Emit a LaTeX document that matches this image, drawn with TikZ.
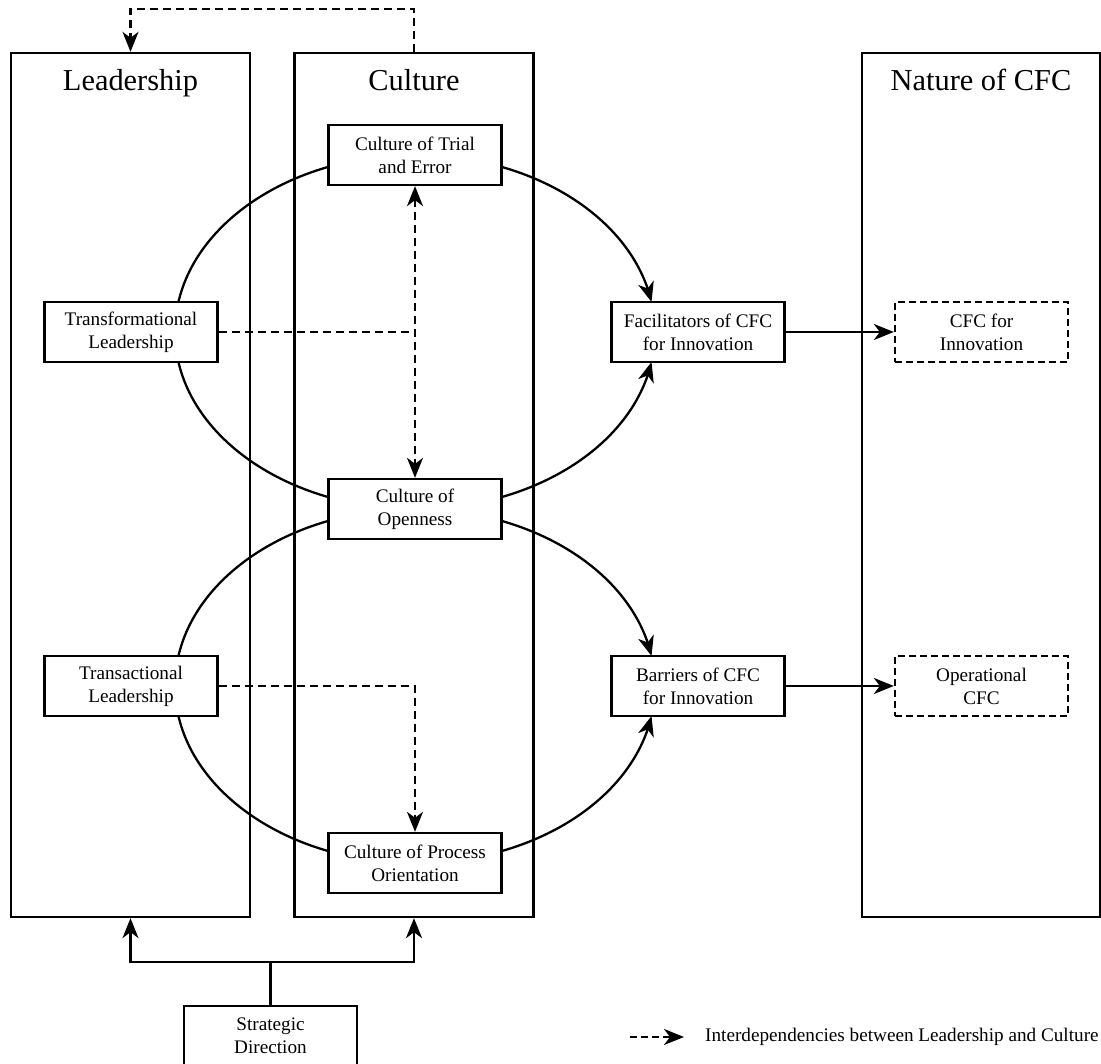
\documentclass[tikz,border=0pt]{standalone}
\usepackage{fontspec}
\setmainfont{Liberation Serif}
\usetikzlibrary{arrows.meta,bending,backgrounds}
\begin{document}
\begin{tikzpicture}[x=1pt,y=1pt,
  every node/.style={font=\fontsize{19.2}{23}\selectfont},
  panel/.style={draw,line width=2.3pt,minimum width=239pt,minimum height=864pt,inner sep=0pt},
  paneltitle/.style={font=\fontsize{30.4}{35}\selectfont,anchor=base,inner sep=0pt},
  item/.style={draw,line width=2.3pt,fill=white,minimum width=173pt,minimum height=60pt,align=center,inner sep=2pt},
  outcome/.style={item,dash pattern=on 7pt off 4pt},
  tip/.style={-{Stealth[length=20pt,width=16pt,inset=6pt]}},
  bitip/.style={{Stealth[length=20pt,width=16pt,inset=6pt]}-{Stealth[length=20pt,width=16pt,inset=6pt]}},
  link/.style={line width=2.3pt},
  dep/.style={line width=2.3pt,dash pattern=on 8pt off 5pt},
  loop/.style={x radius=240,y radius=177},
]
\useasboundingbox (0,0) rectangle (1101,1064);

% three panels
\node[panel] (lead) at (130.5,579) {};
\node[panel] (cult) at (414,579) {};
\node[panel,minimum width=238pt] (nat) at (981,579) {};
\node[paneltitle] (leadT) at (130.5,973) {Leadership};
\node[paneltitle] (cultT) at (414,973) {Culture};
\node[paneltitle] (natT) at (981,973) {Nature of CFC};

% elements
\node[item] (trial) at (415,909) {Culture of Trial\\and Error};
\node[item] (transf) at (131,732) {Transformational\\Leadership};
\node[item] (facil) at (698,732) {Facilitators of CFC\\for Innovation};
\node[outcome] (cfcinn) at (981.5,732) {CFC for\\Innovation};
\node[item] (open) at (415,555) {Culture of\\Openness};
\node[item] (transa) at (131,378) {Transactional\\Leadership};
\node[item] (barr) at (698,378) {Barriers of CFC\\for Innovation};
\node[outcome] (oper) at (981.5,378) {Operational\\CFC};
\node[item] (proc) at (415,201) {Culture of Process\\Orientation};
\node[item] (strat) at (270.5,28) {Strategic\\Direction};

% legend
\coordinate (legA) at (630,27);
\coordinate (legB) at (684,27);
\node[anchor=west,inner sep=0pt] (legT) at (705,27) {Interdependencies between Leadership and Culture};

\begin{scope}[on background layer]
  % upper loop
  \draw[link] (trial.center) arc[start angle=90,end angle=270,loop];
  \draw[link,tip] (trial.center) arc[start angle=90,end angle=9.757,loop];
  \draw[link,tip] (open.center) arc[start angle=-90,end angle=-9.757,loop];
  % lower loop
  \draw[link] (open.center) arc[start angle=90,end angle=270,loop];
  \draw[link,tip] (open.center) arc[start angle=90,end angle=9.757,loop];
  \draw[link,tip] (proc.center) arc[start angle=-90,end angle=-9.757,loop];

  % interdependencies
  \draw[dep,tip] (cult.north) -- ++(0,43) -| (lead.north);
  \draw[dep,bitip] (trial.south) -- (open.north);
  \draw[dep] (transf.east) -- (transf.east -| trial.south);
  \draw[dep,tip] (transa.east) -| (proc.north);
  \draw[dep,dash pattern=on 7pt off 4pt,tip] (legA) -- (legB);

  % outcomes
  \draw[link,tip] (facil.east) -- (cfcinn.west);
  \draw[link,tip] (barr.east) -- (oper.west);

  % strategic direction
  \coordinate (fork) at (270.5,102);
  \draw[link] (strat.north) -- (fork);
  \draw[link,tip] (fork) -| (lead.south);
  \draw[link,tip] (fork) -| (cult.south);
\end{scope}
\end{tikzpicture}
\end{document}
